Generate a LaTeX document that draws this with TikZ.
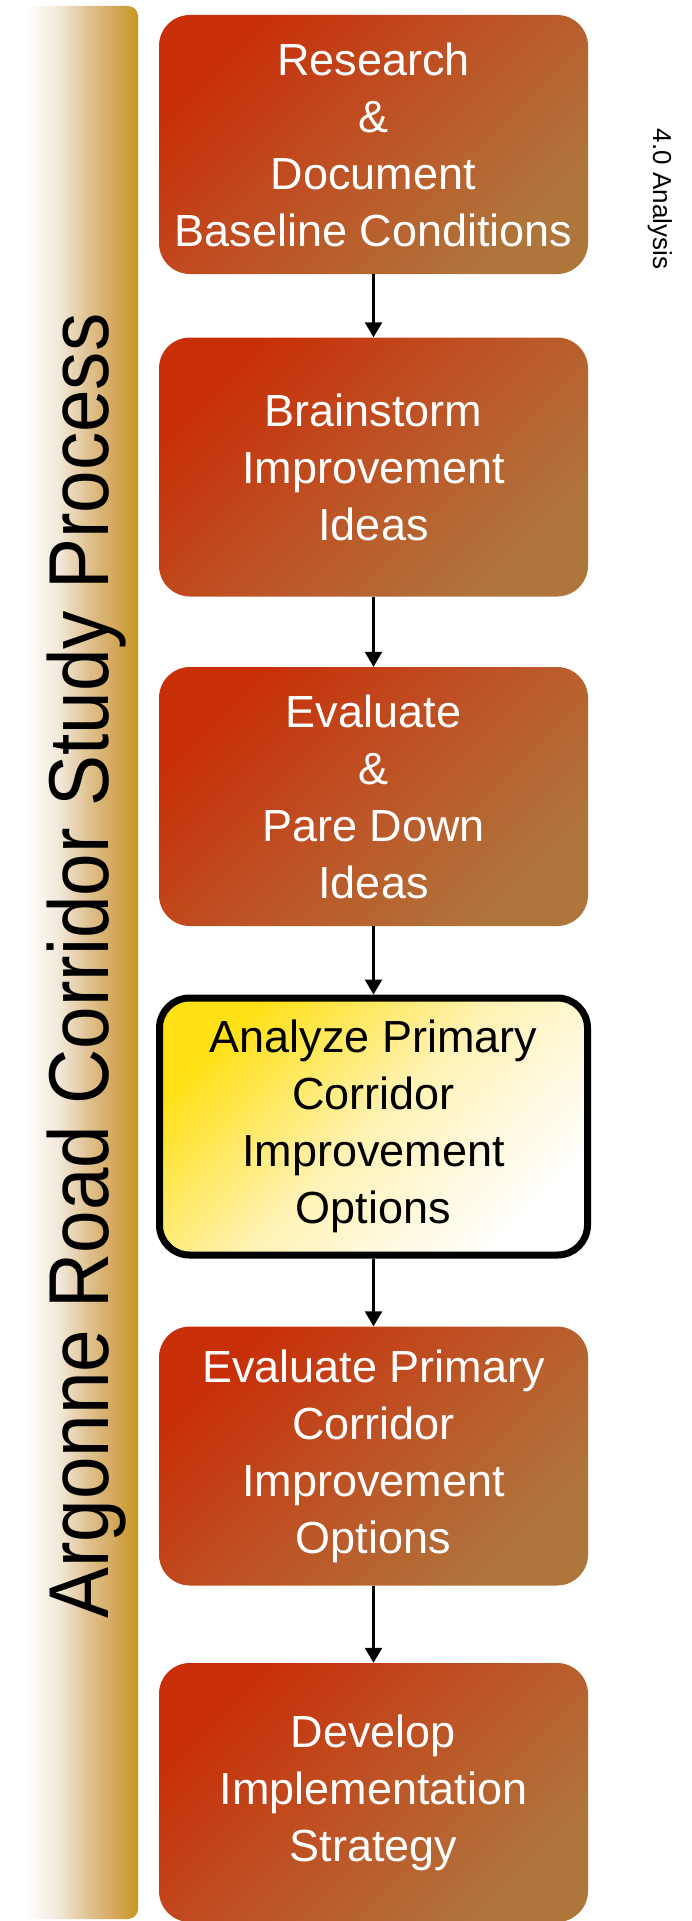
\documentclass[tikz,border=0pt]{standalone}
\usepackage{fontspec}
\setmainfont{Liberation Sans}
\newfontfamily\sidefont[FakeStretch=0.9]{Liberation Sans}
\usetikzlibrary{arrows.meta}
\definecolor{boxA}{RGB}{200,46,8}
\definecolor{boxM}{RGB}{189,84,38}
\definecolor{boxB}{RGB}{175,118,60}
\definecolor{hiA}{RGB}{255,224,20}
\definecolor{hiM}{RGB}{255,242,182}
\definecolor{hiB}{RGB}{255,255,255}
\definecolor{sbA}{RGB}{242,232,218}
\definecolor{sbB}{RGB}{222,190,138}
\definecolor{sbC}{RGB}{212,168,92}
\definecolor{sbD}{RGB}{200,150,30}
% shading: 25bp..75bp is mapped onto the path's extent
\pgfdeclarehorizontalshading{sidebarshade}{100bp}{color(0bp)=(white); color(32bp)=(white); color(45bp)=(sbA); color(57bp)=(sbB); color(66bp)=(sbC); color(75bp)=(sbD); color(100bp)=(sbD)}
\begin{document}
\begin{tikzpicture}[x=1pt,y=-1pt,
  stepbox/.style={rectangle, rounded corners=31pt, minimum width=429pt, minimum height=259pt,
    inner sep=0pt, align=center, text=white, font=\fontsize{45}{57}\selectfont,
    top color=boxA, bottom color=boxB, middle color=boxM, shading angle=45},
  hibox/.style={stepbox, text=black, top color=hiA, bottom color=hiB, middle color=hiM, shading angle=45,
    draw=black, line width=7pt, minimum width=428pt, minimum height=257pt, rounded corners=30pt},
  conn/.style={line width=2.6pt, -{Triangle[width=17pt,length=15pt]}}
]
\useasboundingbox (0,0) rectangle (691,1921);
% sidebar
\path[shading=sidebarshade, rounded corners=10pt] (6,6) rectangle (138,1919);
\node[rotate=90, anchor=base, inner sep=0pt, font=\sidefont\fontsize{85}{100}\selectfont] (title) at (108,966) {Argonne Road Corridor Study Process};
% side label
\node[rotate=-90, anchor=base, inner sep=0pt, font=\fontsize{26}{30}\selectfont] (sec) at (653,199) {4.0 Analysis};
% boxes
\node[stepbox] (b1) at (373.5,144.5) {Research\\\&\\Document\\Baseline Conditions};
\node[stepbox] (b2) at (373.5,467) {Brainstorm\\Improvement\\Ideas};
\node[stepbox] (b3) at (373.5,796.5) {Evaluate\\\&\\Pare Down\\Ideas};
\node[hibox] (b4) at (373.5,1126.5) {Analyze Primary\\Corridor\\Improvement\\Options};
\node[stepbox] (b5) at (373.5,1456) {Evaluate Primary\\Corridor\\Improvement\\Options};
\node[stepbox] (b6) at (373.5,1792.5) {Develop\\Implementation\\Strategy};
% connectors
\draw[conn] (b1.south) -- (b2.north);
\draw[conn] (b2.south) -- (b3.north);
\draw[conn] (b3.south) -- (b4.north);
\draw[conn] (b4.south) -- (b5.north);
\draw[conn] (b5.south) -- (b6.north);
\end{tikzpicture}
\end{document}
